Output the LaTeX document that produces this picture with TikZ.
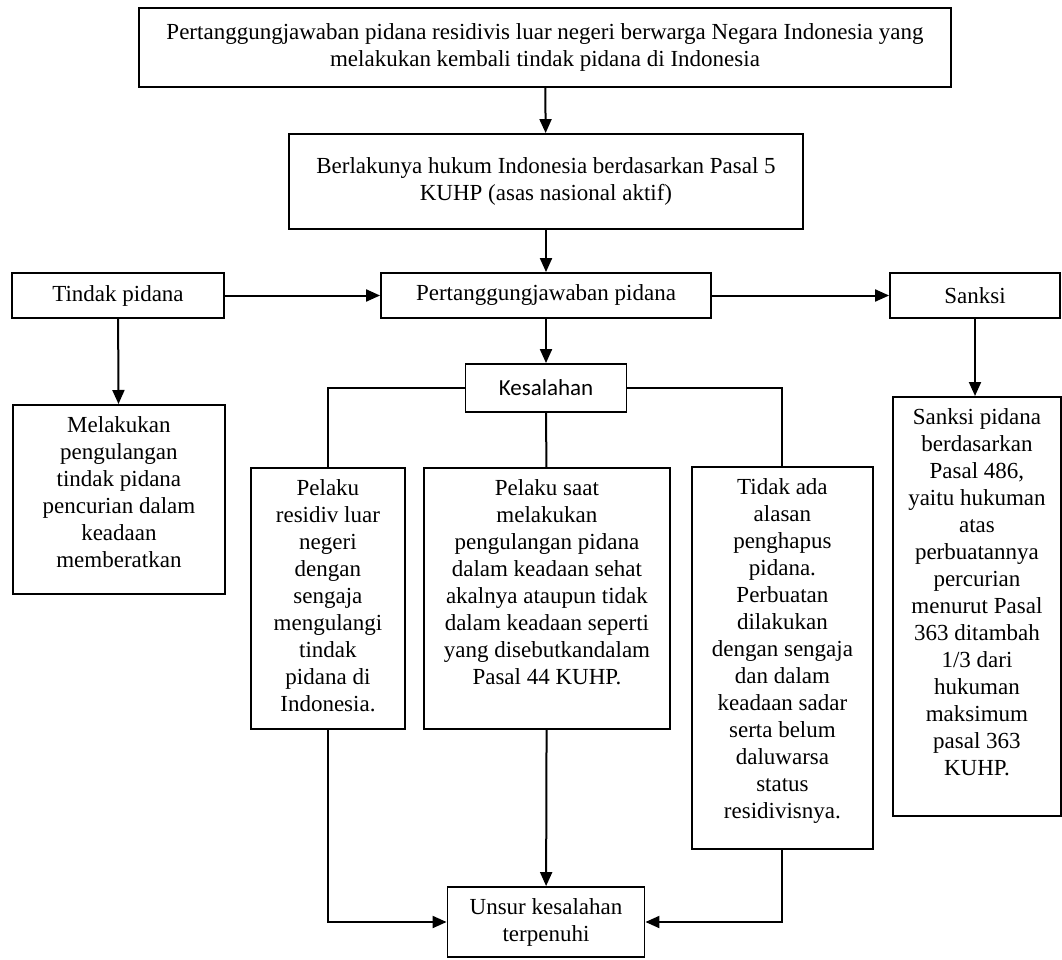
\documentclass[tikz,border=0pt]{standalone}
\usepackage{fontspec}
\setmainfont{Liberation Serif}
\newfontfamily\calibri{Carlito}
\usetikzlibrary{positioning,arrows.meta}

\newlength{\pxu}
\setlength{\pxu}{0.75pt}
% text that starts at the top of a tall box
\newcommand{\toptxt}[3]{\parbox[c][#2\pxu][t]{#1\pxu}{\centering\vspace*{9\pxu}\strut#3}}

\begin{document}
\begin{tikzpicture}
		[x=0.75pt, y=-0.75pt, >={Triangle[length=10.5pt,width=9pt]},
		font=\fontsize{17.25}{20.25}\selectfont,
		box/.style={draw, line width=1.4pt, align=center, inner sep=2pt},
		tallbox/.style={draw, line width=1.4pt, inner sep=0pt, anchor=north west},
		link/.style={line width=1.5pt}]
		\useasboundingbox (0,0) rectangle (1062,959);

		\node [box, minimum width={812*\pxu}, minimum height={79*\pxu}] (tanggung) at (545,47.5)
			{Pertanggungjawaban pidana residivis luar negeri berwarga Negara Indonesia yang\\ melakukan kembali tindak pidana di Indonesia};
		\node [box, minimum width={514*\pxu}, minimum height={95*\pxu}] (berlaku) at (546,181.5)
			{Berlakunya hukum Indonesia berdasarkan Pasal 5\\ KUHP (asas nasional aktif)};

		\node [box, minimum width={330*\pxu}, minimum height={45*\pxu}] (pert) at (546,295.5) {Pertanggungjawaban pidana};
		\node [box, minimum width={212*\pxu}, minimum height={45*\pxu}] (tindak) at (118,295.5) {Tindak pidana};
		\node [box, minimum width={170*\pxu}, minimum height={45*\pxu}] (sanksi) at (975,295.5) {Sanksi};

		\node [box, minimum width={161*\pxu}, minimum height={48*\pxu}] (kesalahan) at (546,388) {\calibri Kesalahan};

		\node [tallbox] (melakukan) at (12,404) {\toptxt{212}{189}{Melakukan\\ pengulangan\\ tindak pidana\\ pencurian dalam\\ keadaan\\ memberatkan}};
		\node [tallbox] (pelaku) at (250,467) {\toptxt{154}{261}{Pelaku\\ residiv luar\\ negeri\\ dengan\\ sengaja\\ mengulangi\\ tindak\\ pidana di\\ Indonesia.}};
		\node [tallbox] (saat) at (423,467) {\toptxt{246}{261}{Pelaku saat\\ melakukan\\ pengulangan pidana\\ dalam keadaan sehat\\ akalnya ataupun tidak\\ dalam keadaan seperti\\ yang disebutkandalam\\ Pasal 44 KUHP.}};
		\node [tallbox] (tidak) at (691,466) {\toptxt{181}{382}{Tidak ada\\ alasan\\ penghapus\\ pidana.\\ Perbuatan\\ dilakukan\\ dengan sengaja\\ dan dalam\\ keadaan sadar\\ serta belum\\ daluwarsa\\ status\\ residivisnya.}};
		\node [tallbox] (sanksipid) at (892,396) {\toptxt{168}{419}{Sanksi pidana\\ berdasarkan\\ Pasal 486,\\ yaitu hukuman\\ atas\\ perbuatannya\\ percurian\\ menurut Pasal\\ 363 ditambah\\ 1/3 dari\\ hukuman\\ maksimum\\ pasal 363\\ KUHP.}};

		\node [box, minimum width={197*\pxu}, minimum height={70*\pxu}] (unsur) at (546,922) {Unsur kesalahan\\ terpenuhi};

		\draw [link, ->] (tanggung) -- (berlaku);
		\draw [link, ->] (berlaku) -- (pert);
		\draw [link, ->] (tindak) -- (pert);
		\draw [link, ->] (pert) -- (sanksi);
		\draw [link, ->] (tindak) -- (melakukan);
		\draw [link, ->] (sanksi) -- (sanksi |- sanksipid.north);
		\draw [link, ->] (pert) -- (kesalahan);

		\draw [link] (kesalahan) -| (pelaku);
		\draw [link] (kesalahan) -- (saat);
		\draw [link] (kesalahan) -| (tidak);

		\draw [link, ->] (saat) -- (unsur);
		\draw [link, ->] (pelaku) |- (unsur);
		\draw [link, ->] (tidak) |- (unsur);

	\end{tikzpicture}
\end{document}
